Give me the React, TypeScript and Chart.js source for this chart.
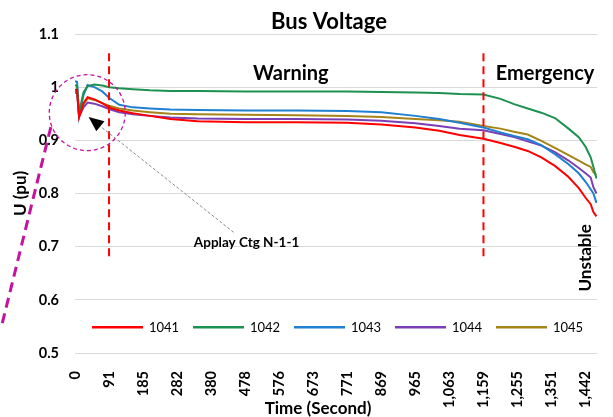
import React, { useEffect, useRef } from "react";
import { Chart, registerables } from "chart.js";

Chart.register(...registerables);

// Tick labels (time in seconds) shown under every 10th sample position
const TICK_LABELS = ["0", "91", "185", "282", "380", "478", "576", "673", "771", "869", "965", "1,063", "1,159", "1,255", "1,351", "1,442"];

// Sample positions along the category axis (10 units between labelled ticks)
const SAMPLE_INDEX = [0, 0.6, 1.2, 2.5, 3.7, 5.7, 8, 10, 13, 17, 22, 28, 36, 50, 65, 80, 90, 100, 107, 113, 120, 125, 129, 133, 137, 141, 145, 148, 150, 151.5, 152.3, 153.2];

const BUS_NAMES = ["1041", "1042", "1043", "1044", "1045"];

const V1041 = [0.995, 0.995, 0.944, 0.970, 0.981, 0.977, 0.970, 0.962, 0.956, 0.951,
  0.946, 0.940, 0.936, 0.934, 0.934, 0.933, 0.930, 0.924, 0.918, 0.910,
  0.903, 0.895, 0.888, 0.880, 0.868, 0.852, 0.831, 0.810, 0.792, 0.780,
  0.765, 0.757];
const V1042 = [1.003, 1.003, 0.952, 0.990, 1.002, 1.005, 1.003, 1.000, 0.998, 0.996,
  0.994, 0.993, 0.993, 0.992, 0.992, 0.992, 0.991, 0.990, 0.989, 0.987,
  0.986, 0.978, 0.968, 0.960, 0.952, 0.942, 0.922, 0.906, 0.888, 0.868,
  0.850, 0.828];
const V1043 = [1.011, 1.010, 0.945, 0.985, 1.004, 1.000, 0.992, 0.980, 0.967, 0.962,
  0.960, 0.958, 0.957, 0.956, 0.956, 0.955, 0.953, 0.946, 0.940, 0.933,
  0.924, 0.915, 0.908, 0.902, 0.891, 0.874, 0.855, 0.838, 0.822, 0.808,
  0.800, 0.782];
const V1044 = [0.992, 0.992, 0.944, 0.962, 0.971, 0.969, 0.964, 0.959, 0.953, 0.949,
  0.946, 0.943, 0.941, 0.940, 0.940, 0.939, 0.937, 0.932, 0.927, 0.922,
  0.919, 0.912, 0.906, 0.898, 0.890, 0.878, 0.862, 0.848, 0.838, 0.830,
  0.812, 0.800];
const V1045 = [0.989, 0.989, 0.945, 0.968, 0.979, 0.976, 0.970, 0.965, 0.960, 0.956,
  0.953, 0.950, 0.949, 0.948, 0.947, 0.946, 0.944, 0.940, 0.938, 0.935,
  0.927, 0.922, 0.916, 0.911, 0.899, 0.886, 0.872, 0.862, 0.855, 0.850,
  0.840, 0.835];

const COLORS = ["#ff0000", "#1d9150", "#1f7fd0", "#7b3fb5", "#a6841a"];
const FONT = "Lato";

const overlay = {
  id: "overlay",
  afterDraw(chart: any) {
    const { ctx, chartArea, scales } = chart;
    const xs = scales.x;
    const ys = scales.y;
    const px = (v: number) => xs.getPixelForValue(v);
    const py = (v: number) => ys.getPixelForValue(v);
    ctx.save();

    // red dashed phase separators
    ctx.strokeStyle = "#ff0000";
    ctx.lineWidth = 2;
    ctx.setLineDash([8, 5]);
    for (const idx of [10, 120]) {
      ctx.beginPath();
      ctx.moveTo(px(idx), py(1.064));
      ctx.lineTo(px(idx), py(0.678));
      ctx.stroke();
    }

    // magenta dashed circle
    ctx.strokeStyle = "#c4139f";
    ctx.lineWidth = 1.3;
    ctx.setLineDash([4, 3]);
    ctx.beginPath();
    ctx.arc(px(3.6), py(0.952), 38, 0, Math.PI * 2);
    ctx.stroke();

    // magenta thick dashed leader
    ctx.lineWidth = 3;
    ctx.setLineDash([10, 6]);
    ctx.beginPath();
    ctx.moveTo(px(-7.1), py(0.925));
    ctx.lineTo(px(-21.6), py(0.55));
    ctx.stroke();

    // gray dashed arrow
    const ax0 = px(46.6), ay0 = py(0.727), ax1 = px(4), ay1 = py(0.944);
    const ang = Math.atan2(ay1 - ay0, ax1 - ax0);
    const headLen = 15, headW = 6.5;
    const bx = ax1 - headLen * Math.cos(ang), by = ay1 - headLen * Math.sin(ang);
    ctx.strokeStyle = "#8a8a8a";
    ctx.lineWidth = 1;
    ctx.setLineDash([3, 2]);
    ctx.beginPath();
    ctx.moveTo(ax0, ay0);
    ctx.lineTo(bx, by);
    ctx.stroke();
    ctx.setLineDash([]);
    ctx.fillStyle = "#000";
    ctx.beginPath();
    ctx.moveTo(ax1, ay1);
    ctx.lineTo(bx + headW * Math.sin(ang), by - headW * Math.cos(ang));
    ctx.lineTo(bx - headW * Math.sin(ang), by + headW * Math.cos(ang));
    ctx.closePath();
    ctx.fill();

    // texts
    ctx.fillStyle = "#000";
    ctx.textAlign = "center";
    ctx.textBaseline = "middle";
    ctx.font = `bold 22px ${FONT}`;
    ctx.fillText("Bus Voltage", 329, 22);
    ctx.font = `bold 20px ${FONT}`;
    ctx.fillText("Warning", px(63.4), py(1.026));
    ctx.fillText("Emergency", px(138.1), py(1.026));
    ctx.font = `bold 13.5px ${FONT}`;
    ctx.fillText("Applay Ctg N-1-1", px(50.4), py(0.708));
    ctx.font = `bold 17px ${FONT}`;
    ctx.fillText("Time (Second)", 318, 409);
    ctx.save();
    ctx.translate(px(150), py(0.679));
    ctx.rotate(-Math.PI / 2);
    ctx.fillText("Unstable", 0, 0);
    ctx.restore();

    // legend inside plot area
    const ly = py(0.5485);
    ctx.font = `13px ${FONT}`;
    ctx.textAlign = "left";
    chart.data.datasets.forEach((ds: any, k: number) => {
      const lx = chartArea.left + 17 + k * 101;
      ctx.strokeStyle = ds.borderColor;
      ctx.lineWidth = 2.5;
      ctx.beginPath();
      ctx.moveTo(lx, ly);
      ctx.lineTo(lx + 51, ly);
      ctx.stroke();
      ctx.fillStyle = "#000";
      ctx.fillText(ds.label, lx + 57, ly + 0.5);
    });

    ctx.restore();
  },
};

export default function App() {
  const ref = useRef<HTMLCanvasElement>(null);
  useEffect(() => {
    const series = [V1041, V1042, V1043, V1044, V1045];
    const chart = new Chart(ref.current as HTMLCanvasElement, {
      type: "line",
      data: {
        datasets: BUS_NAMES.map((name, k) => ({
          label: name,
          data: SAMPLE_INDEX.map((x, i) => ({ x, y: series[k][i] })),
          borderColor: COLORS[k],
          backgroundColor: COLORS[k],
          borderWidth: 2,
          pointRadius: 0,
          tension: 0,
          fill: false,
        })),
      },
      options: {
        animation: false,
        responsive: false,
        layout: { padding: { top: 34, right: 1, left: 0, bottom: 0 } },
        plugins: {
          legend: { display: false },
          title: { display: false },
          tooltip: { enabled: false },
        },
        scales: {
          x: {
            type: "linear",
            min: 0,
            max: 153.4,
            grid: { display: false },
            border: { display: false },
            afterBuildTicks: (s: any) => {
              s.ticks = TICK_LABELS.map((_, i) => ({ value: i * 10 }));
            },
            afterFit: (s: any) => {
              s.height = 64;
            },
            ticks: {
              autoSkip: false,
              maxRotation: 90,
              minRotation: 90,
              padding: 10,
              color: "#000",
              font: { family: FONT, size: 14.5, weight: "bold" },
              callback: (_v: any, i: number) => TICK_LABELS[i],
            },
          },
          y: {
            min: 0.5,
            max: 1.1,
            afterFit: (s: any) => {
              s.width = 75;
            },
            grid: { color: "#d9d9d9", lineWidth: 1, drawTicks: false },
            border: { display: false },
            ticks: {
              stepSize: 0.1,
              padding: 16,
              color: "#000",
              font: { family: FONT, size: 14.5, weight: "bold" },
              callback: (v: any) => String(Math.round(Number(v) * 10) / 10),
            },
            title: {
              display: true,
              text: "U (pu)",
              color: "#000",
              font: { family: FONT, size: 17, weight: "bold" },
              padding: { top: 10, bottom: 0 },
            },
          },
        },
      },
      plugins: [overlay],
    } as any);
    return () => chart.destroy();
  }, []);
  return (
    <div style={{ position: "fixed", left: 0, top: 0, width: 613, height: 417, background: "#fff" }}>
      <canvas ref={ref} width={613} height={417} style={{ display: "block" }} />
    </div>
  );
}
